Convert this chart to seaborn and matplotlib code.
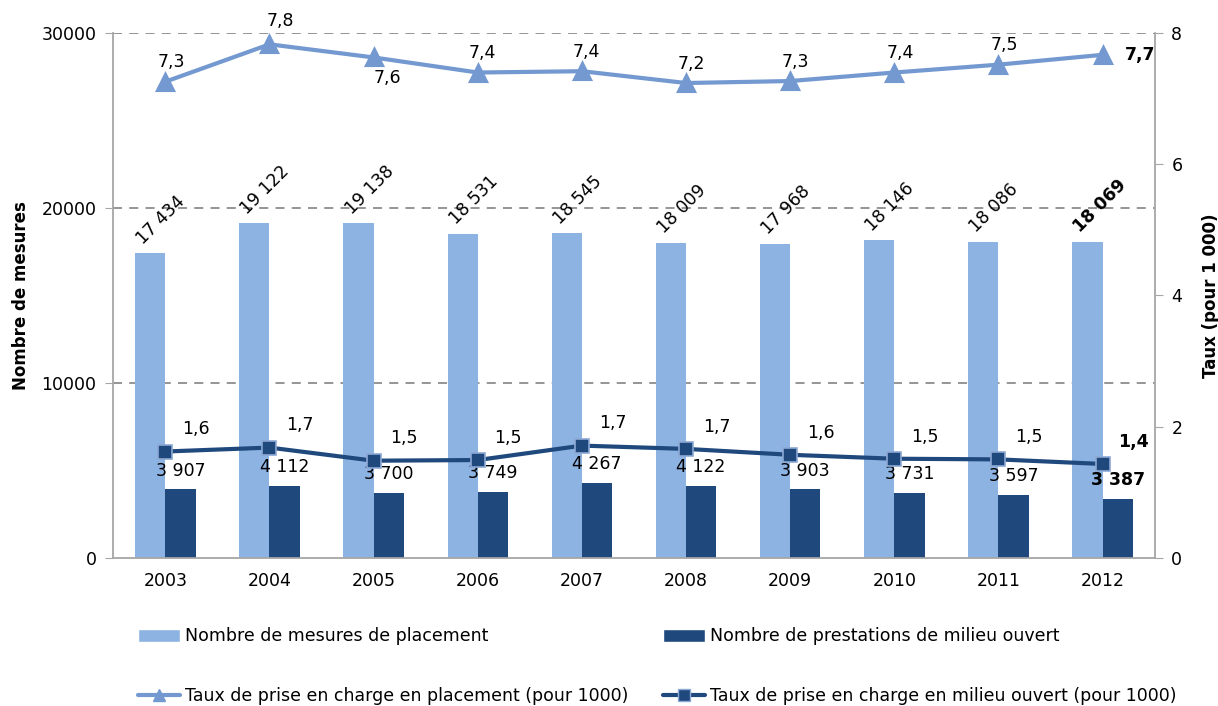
import pandas as pd
import matplotlib.pyplot as plt
import seaborn as sns
import numpy as np
from matplotlib.patches import Patch
from matplotlib.lines import Line2D
from matplotlib.ticker import FixedLocator

# Données
annees = ["2003", "2004", "2005", "2006", "2007", "2008", "2009", "2010", "2011", "2012"]
mesures_placement = [17434, 19122, 19138, 18531, 18545, 18009, 17968, 18146, 18086, 18069]
prestations_milieu = [3907, 4112, 3700, 3749, 4267, 4122, 3903, 3731, 3597, 3387]
taux_placement = [7.26, 7.83, 7.63, 7.40, 7.42, 7.24, 7.27, 7.40, 7.52, 7.67]
taux_milieu = [1.62, 1.68, 1.48, 1.49, 1.71, 1.66, 1.57, 1.51, 1.50, 1.43]

lab_placement = "Nombre de mesures de placement"
lab_milieu = "Nombre de prestations de milieu ouvert"
lab_taux_pl = "Taux de prise en charge en placement (pour 1000)"
lab_taux_mo = "Taux de prise en charge en milieu ouvert (pour 1000)"

bleu_clair = "#8DB3E2"
bleu_fonce = "#1F497D"
bleu_ligne = "#7399D0"
gris = "#A6A6A6"

sns.set_style("white")
plt.rcParams['font.family'] = ['DejaVu Sans']
plt.rcParams['text.color'] = 'black'
plt.rcParams['axes.labelcolor'] = 'black'
plt.rcParams['xtick.labelcolor'] = 'black'
plt.rcParams['ytick.labelcolor'] = 'black'

df = pd.DataFrame({
    'Année': annees * 2,
    'Valeur': mesures_placement + prestations_milieu,
    'Série': [lab_placement] * 10 + [lab_milieu] * 10,
})

fig = plt.figure(figsize=(12.18, 7.06), dpi=100)
ax = fig.add_axes([0.093, 0.21, 0.855, 0.743])

sns.barplot(data=df, x='Année', y='Valeur', hue='Série', palette=[bleu_clair, bleu_fonce],
            width=0.58, ax=ax, legend=False, saturation=1, linewidth=0, edgecolor='none')

ax.set_ylim(0, 30000)
ax.set_yticks([0, 10000, 20000, 30000])
ax.set_yticklabels(["0", "10000", "20000", "30000"], fontsize=12.5)
for v in [10000, 20000, 30000]:
    ax.axhline(v, color='#8C8C8C', linestyle=(0, (5, 4)), linewidth=1.3, zorder=0)
ax.set_xlim(-0.5, 9.5)
ax.set_xlabel("")
ax.set_ylabel("Nombre de mesures", fontsize=12, fontweight='bold', labelpad=8)
ax.tick_params(axis='x', which='major', length=0, labelsize=12.5, pad=10)
ax.xaxis.set_minor_locator(FixedLocator(np.arange(-0.5, 10, 1)))
ax.tick_params(axis='x', which='minor', length=6, color=gris, direction='out')
ax.tick_params(axis='y', length=6, color=gris, direction='out', pad=6)
for s in ['top', 'right']:
    ax.spines[s].set_visible(False)
for s in ['left', 'bottom']:
    ax.spines[s].set_color(gris)
    ax.spines[s].set_linewidth(1.3)

# Étiquettes des barres
for i, bar in enumerate(ax.containers[0]):
    x = bar.get_x() + bar.get_width() / 2
    txt = f"{mesures_placement[i]:,}".replace(",", " ")
    ax.annotate(txt, (x, bar.get_height()), xytext=(-3, 4), textcoords='offset points',
                rotation=45, rotation_mode='anchor', ha='left', va='bottom', fontsize=12.5,
                fontweight='bold' if i == 9 else 'normal')
for i, bar in enumerate(ax.containers[1]):
    x = bar.get_x() + bar.get_width() / 2
    txt = f"{prestations_milieu[i]:,}".replace(",", " ")
    ax.annotate(txt, (x, bar.get_height()), xytext=(0, 7), textcoords='offset points',
                ha='center', va='bottom', fontsize=12.5,
                fontweight='bold' if i == 9 else 'normal')

# Axe secondaire
ax2 = ax.twinx()
sns.pointplot(x=annees, y=taux_placement, ax=ax2, color=bleu_ligne, markers='^',
              linestyles='-', errorbar=None, markersize=11, linewidth=3)
sns.pointplot(x=annees, y=taux_milieu, ax=ax2, color=bleu_fonce, markers='s',
              linestyles='-', errorbar=None, markersize=10, linewidth=3,
              markeredgecolor='#8DA9D4', markeredgewidth=1.2)
ax2.set_ylim(0, 8)
ax2.set_yticks([0, 2, 4, 6, 8])
ax2.set_yticklabels(["0", "2", "4", "6", "8"], fontsize=12.5)
ax2.set_xlim(-0.5, 9.5)
ax2.set_ylabel("Taux (pour 1 000)", fontsize=12, fontweight='bold', labelpad=14)
ax2.tick_params(axis='y', length=6, color=gris, direction='out', pad=6)
for s in ['top', 'left', 'bottom']:
    ax2.spines[s].set_visible(False)
ax2.spines['right'].set_color(gris)
ax2.spines['right'].set_linewidth(1.3)

off_pl = [(4, 14), (8, 17), (10, -15), (3, 14), (3, 14), (4, 14), (4, 14), (4, 14), (4, 14), (27, 0)]
for i, v in enumerate(taux_placement):
    ax2.annotate(f"{v:.1f}".replace(".", ","), (i, v), xytext=off_pl[i], textcoords='offset points',
                 ha='center', va='center', fontsize=12.5,
                 fontweight='bold' if i == 9 else 'normal')
for i, v in enumerate(taux_milieu):
    ax2.annotate(f"{v:.1f}".replace(".", ","), (i, v), xytext=(22, 16), textcoords='offset points',
                 ha='center', va='center', fontsize=12.5,
                 fontweight='bold' if i == 9 else 'normal')

# Légende
handles = [
    Patch(facecolor=bleu_clair, label=lab_placement),
    Line2D([0], [0], color=bleu_ligne, marker='^', markersize=9, linewidth=3, label=lab_taux_pl),
    Patch(facecolor=bleu_fonce, label=lab_milieu),
    Line2D([0], [0], color=bleu_fonce, marker='s', markersize=9, linewidth=3,
           markeredgecolor='#8DA9D4', label=lab_taux_mo),
]
fig.legend(handles=handles, ncol=2, loc='upper left', bbox_to_anchor=(0.105, 0.126),
           frameon=False, fontsize=12.5, labelspacing=2.4, columnspacing=2.0,
           handlelength=2.4, handletextpad=0.3, handleheight=0.8, borderaxespad=0.2)

fig.savefig("out.png", dpi=100)
